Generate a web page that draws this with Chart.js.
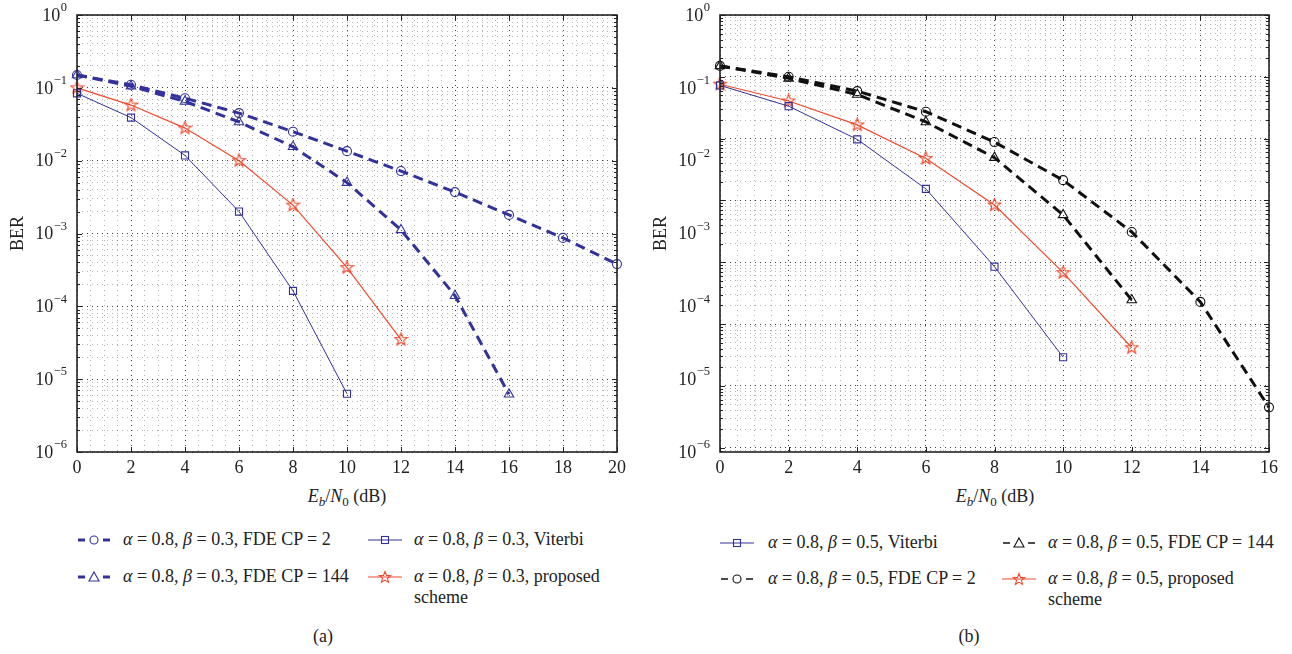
<!DOCTYPE html>
<html>
<head>
<meta charset="utf-8">
<script src="https://cdn.jsdelivr.net/npm/chart.js@4.4.0/dist/chart.umd.min.js"></script>
<style>
html,body{margin:0;padding:0;background:#fff}
body{width:1292px;height:654px;position:relative;overflow:hidden;font-family:"Liberation Serif","Times New Roman",serif;color:#222}
canvas{position:absolute;top:0}
#cA{left:0}
#cB{left:646px}
.xt{position:absolute;top:486px;font-size:18px;transform:translateX(-50%);white-space:nowrap}
.xt sub{font-size:13px;vertical-align:-4px;line-height:0}
.cap{position:absolute;top:626px;font-size:18px;transform:translateX(-50%)}
.lg{position:absolute;font-size:18px;white-space:nowrap;line-height:21px}
.sym{position:absolute}
</style>
</head>
<body>
<canvas id="cA" width="646" height="480"></canvas>
<canvas id="cB" width="646" height="480"></canvas>
<div class="xt" style="left:347px"><i>E<sub>b</sub></i>/<i>N</i><sub>0</sub> (dB)</div>
<div class="xt" style="left:995px"><i>E<sub>b</sub></i>/<i>N</i><sub>0</sub> (dB)</div>
<div class="cap" style="left:323px">(a)</div>
<div class="cap" style="left:969px">(b)</div>
<div id="legends"></div>
<script>
/* BER vs Eb/N0, two panels: (a) beta = 0.3, (b) beta = 0.5 */
const snrA=[0,2,4,6,8,10,12,14,16,18,20];
const fdeCp2A=[0.15,0.11,0.072,0.045,0.025,0.0135,0.0072,0.0037,0.0018,0.00087,0.00038];
const fdeCp144A=[0.15,0.105,0.065,0.034,0.0155,0.005,0.00112,0.00014,0.0000062];
const viterbiA=[0.084,0.039,0.0118,0.002,0.000163,0.0000063];
const proposedA=[0.1,0.058,0.028,0.01,0.00245,0.00034,0.000035];

const snrB=[0,2,4,6,8,10,12,14,16];
const fdeCp2B=[0.2,0.142,0.09,0.047,0.018,0.0054,0.00105,0.000115,0.0000041];
const fdeCp144B=[0.2,0.135,0.081,0.034,0.011,0.0018,0.000122];
const viterbiB=[0.108,0.056,0.0196,0.0041,0.00035,0.00002];
const proposedB=[0.112,0.066,0.031,0.0107,0.00246,0.00029,0.000027];

const xTicksA=[0,2,4,6,8,10,12,14,16,18,20];
const xTicksB=[0,2,4,6,8,10,12,14,16];
const yExps=[0,-1,-2,-3,-4,-5,-6];

const NAVY='#32329a', RED='#f04a2e', BLK='#111';
const MAJ='rgba(0,0,0,.75)', MIN='rgba(0,0,0,.3)';
const FONT='"Liberation Serif"';

// five-pointed star marker (open)
function starImg(color){
  const c=document.createElement('canvas'); c.width=c.height=15;
  const g=c.getContext('2d'); g.strokeStyle=color; g.lineWidth=1.2; g.beginPath();
  for(let i=0;i<10;i++){const a=-Math.PI/2+i*Math.PI/5, r=i%2?2.8:6.6;
    g.lineTo(7.5+r*Math.cos(a),7.5+r*Math.sin(a));}
  g.closePath(); g.stroke(); return c;
}
const STAR=starImg(RED);

function pts(xs,ys){return ys.map((y,i)=>({x:xs[i],y}));}
function ds(xs,ys,color,style,dashed,lw){
  return {data:pts(xs,ys),borderColor:color,borderWidth:lw,borderDash:dashed?[10,6]:[],
    pointStyle:style,pointRadius:style==='rect'?5:style==='triangle'?5.5:4.5,pointBorderWidth:1.1,
    pointBorderColor:color,pointBackgroundColor:'rgba(0,0,0,0)',backgroundColor:'rgba(0,0,0,0)',
    tension:0,fill:false,clip:false};
}
const isDecade=v=>Math.abs(Math.log10(v)-Math.round(Math.log10(v)))<1e-9;
function logTicks(min,max){const t=[];
  for(let e=-9;e<=0;e++)for(let k=1;k<=9;k++){const v=k*Math.pow(10,e); if(v>=min*0.9999&&v<=max*1.0001)t.push({value:v});}
  return t;}

// box, inward tick marks, tick labels and y title
const frame={id:'frame',afterDraw(chart,args,o){
  const {ctx,chartArea:a,scales}=chart; const x=scales.x,y=scales.y,g=scales[o.gridAxis];
  ctx.save(); ctx.strokeStyle='#222'; ctx.lineWidth=1; ctx.beginPath();
  g.ticks.forEach(t=>{const py=Math.round(g.getPixelForValue(t.value))+.5, len=isDecade(t.value)?5:3;
    ctx.moveTo(a.left,py);ctx.lineTo(a.left+len,py);ctx.moveTo(a.right,py);ctx.lineTo(a.right-len,py);});
  o.xTicks.forEach(v=>{const px=Math.round(x.getPixelForValue(v))+.5;
    ctx.moveTo(px,a.bottom);ctx.lineTo(px,a.bottom-5);ctx.moveTo(px,a.top);ctx.lineTo(px,a.top+5);});
  ctx.stroke();
  ctx.lineWidth=1.6; ctx.strokeRect(a.left,a.top,a.right-a.left,a.bottom-a.top);
  ctx.fillStyle='#222'; ctx.textBaseline='middle';
  ctx.font='18px '+FONT; ctx.textAlign='center';
  o.xTicks.forEach(v=>ctx.fillText(String(v),x.getPixelForValue(v),a.bottom+16));
  yExps.forEach(e=>{const py=y.getPixelForValue(Math.pow(10,e)), ex=e===0?'0':'\u2212'+(-e);
    ctx.font='12.5px '+FONT; const we=ctx.measureText(ex).width;
    ctx.textAlign='right'; ctx.fillText(ex,a.left-10,py-7);
    ctx.font='18px '+FONT; ctx.fillText('10',a.left-10-we-0.5,py+1);});
  ctx.translate(a.left-59,(a.top+a.bottom)/2); ctx.rotate(-Math.PI/2);
  ctx.font='18px '+FONT; ctx.textAlign='center'; ctx.fillText('BER',0,0);
  ctx.restore();
}};

function mk(id,datasets,xMax,xTicks,pad,gridMin){
  const half=[]; for(let v=0;v<=xMax;v+=0.5)half.push(v);
  const scales={
    x:{type:'linear',min:0,max:xMax,ticks:{display:false},border:{display:false,dash:[1,4]},
      grid:{drawTicks:false,color:c=>c.tick&&c.tick.value%2===0?MAJ:MIN},
      afterBuildTicks:ax=>{ax.ticks=half.map(v=>({value:v}));}},
    y:{type:'logarithmic',min:1e-6,max:1,position:'left',ticks:{display:false},border:{display:false,dash:[1,4]},
      grid:{display:!gridMin,drawTicks:false,color:c=>c.tick&&isDecade(c.tick.value)?MAJ:MIN},
      afterBuildTicks:ax=>{ax.ticks=logTicks(1e-6,1);}}
  };
  if(gridMin){
    scales.yg={type:'logarithmic',min:gridMin,max:1,position:'left',ticks:{display:false},border:{display:false,dash:[1,4]},
      grid:{drawTicks:false,color:c=>c.tick&&isDecade(c.tick.value)?MAJ:MIN},
      afterBuildTicks:ax=>{ax.ticks=logTicks(gridMin,1);}};
  }
  return new Chart(document.getElementById(id),{type:'line',data:{datasets},
    options:{responsive:false,devicePixelRatio:1,animation:false,layout:{padding:pad},
      plugins:{legend:{display:false},tooltip:{enabled:false},frame:{gridAxis:gridMin?'yg':'y',xTicks}},
      scales}, plugins:[frame]});
}

function draw(){
  mk('cA',[
    ds(snrA,fdeCp2A,NAVY,'circle',true,3),
    ds(snrA,fdeCp144A,NAVY,'triangle',true,3),
    ds(snrA,viterbiA,NAVY,'rect',false,1),
    ds(snrA,proposedA,RED,STAR,false,1.2)
  ],20,xTicksA,{left:77,right:29,top:15,bottom:28});

  mk('cB',[
    ds(snrB,fdeCp2B,BLK,'circle',true,3),
    ds(snrB,fdeCp144B,BLK,'triangle',true,3),
    ds(snrB,viterbiB,NAVY,'rect',false,1),
    ds(snrB,proposedB,RED,STAR,false,1.2)
  ],16,xTicksB,{left:74,right:23,top:15,bottom:28},Math.pow(10,-7.07));
}

// legends under each panel
function sym(kind,color,dashed,lw){
  let m='';
  if(kind==='circle')m=`<circle cx="17" cy="7" r="4" fill="none" stroke="${color}" stroke-width="1.1"/>`;
  if(kind==='triangle')m=`<polygon points="17,2 22,11 12,11" fill="none" stroke="${color}" stroke-width="1.1"/>`;
  if(kind==='rect')m=`<rect x="13.5" y="3.5" width="7" height="7" fill="none" stroke="${color}" stroke-width="1.1"/>`;
  if(kind==='star'){const p=[];for(let i=0;i<10;i++){const a=-Math.PI/2+i*Math.PI/5,r=i%2?2.6:6;
    p.push((17+r*Math.cos(a)).toFixed(2)+','+(7.5+r*Math.sin(a)).toFixed(2));}
    m=`<polygon points="${p.join(' ')}" fill="none" stroke="${color}" stroke-width="1.1"/>`;}
  const line=dashed?`<line x1="1" y1="7" x2="8" y2="7" stroke="${color}" stroke-width="${lw}"/><line x1="26" y1="7" x2="33" y2="7" stroke="${color}" stroke-width="${lw}"/>`
    :`<line x1="0" y1="7" x2="34" y2="7" stroke="${color}" stroke-width="${lw}"/>`;
  return `<svg width="34" height="15" viewBox="0 0 34 15">${line}${m}</svg>`;
}
const legA=[
  {sx:77,tx:123,y:540,k:'circle',c:NAVY,d:true,lw:3,t:'<i>α</i> = 0.8, <i>β</i> = 0.3, FDE CP = 2'},
  {sx:77,tx:123,y:577,k:'triangle',c:NAVY,d:true,lw:3,t:'<i>α</i> = 0.8, <i>β</i> = 0.3, FDE CP = 144'},
  {sx:368,tx:414,y:540,k:'rect',c:NAVY,d:false,lw:1,t:'<i>α</i> = 0.8, <i>β</i> = 0.3, Viterbi'},
  {sx:368,tx:414,y:577,k:'star',c:RED,d:false,lw:1.2,t:'<i>α</i> = 0.8, <i>β</i> = 0.3, proposed<br>scheme'}
];
const legB=[
  {sx:720,tx:768,y:543,k:'rect',c:NAVY,d:false,lw:1,t:'<i>α</i> = 0.8, <i>β</i> = 0.5, Viterbi'},
  {sx:720,tx:768,y:579,k:'circle',c:BLK,d:true,lw:1.5,t:'<i>α</i> = 0.8, <i>β</i> = 0.5, FDE CP = 2'},
  {sx:1002,tx:1048,y:543,k:'triangle',c:BLK,d:true,lw:1.5,t:'<i>α</i> = 0.8, <i>β</i> = 0.5, FDE CP = 144'},
  {sx:1002,tx:1048,y:579,k:'star',c:RED,d:false,lw:1.2,t:'<i>α</i> = 0.8, <i>β</i> = 0.5, proposed<br>scheme'}
];
document.getElementById('legends').innerHTML=legA.concat(legB).map(e=>
  `<div class="sym" style="left:${e.sx}px;top:${e.y-7}px">${sym(e.k,e.c,e.d,e.lw)}</div>`+
  `<div class="lg" style="left:${e.tx}px;top:${e.y-11}px">${e.t}</div>`).join('');

// wait for the serif face so canvas text does not fall back
document.fonts.load('18px '+FONT).then(draw,draw);
</script>
</body>
</html>
